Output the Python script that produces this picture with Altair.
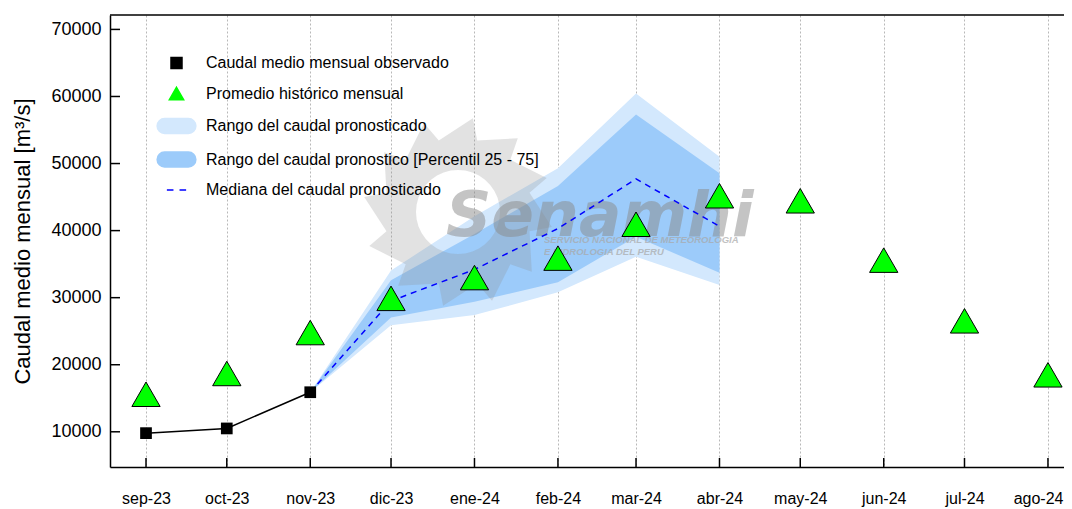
import math
import altair as alt
import pandas as pd

# ---------------- data ----------------
meses = ["2023-09-01", "2023-10-01", "2023-11-01", "2023-12-01", "2024-01-01", "2024-02-01",
         "2024-03-01", "2024-04-01", "2024-05-01", "2024-06-01", "2024-07-01", "2024-08-01"]
historico = [15000, 18100, 24200, 29300, 32400, 35300, 40350, 44600, 43850, 35000, 25950, 17900]

obs_meses = ["2023-09-01", "2023-10-01", "2023-11-01"]
observado = [9800, 10500, 15900]

pron_meses = ["2023-11-01", "2023-12-01", "2024-01-01", "2024-02-01", "2024-03-01", "2024-04-01"]
rango_min = [15900, 25900, 27400, 30800, 36100, 31900]
perc_25 = [15900, 27050, 29400, 32300, 39100, 33700]
mediana = [15900, 29500, 34200, 40300, 47700, 40650]
perc_75 = [15900, 32600, 39500, 46650, 57300, 48550]
rango_max = [15900, 34050, 42150, 49300, 60450, 51000]

y_ticks = [10000, 20000, 30000, 40000, 50000, 60000, 70000]

leyenda = ["Caudal medio mensual observado", "Promedio histórico mensual",
           "Rango del caudal pronosticado", "Rango del caudal pronostico [Percentil 25 - 75]",
           "Mediana del caudal pronosticado"]

def ts(s):
    return s + "T00:00:00"

df_hist = pd.DataFrame({"fecha": [ts(m) for m in meses], "v": historico})
df_obs = pd.DataFrame({"fecha": [ts(m) for m in obs_meses], "v": observado})
df_pron = pd.DataFrame({"fecha": [ts(m) for m in pron_meses], "mn": rango_min, "p25": perc_25,
                        "med": mediana, "p75": perc_75, "mx": rango_max})
df_months = pd.DataFrame({"fecha": [ts(m) for m in meses]})
df_yt = pd.DataFrame({"v": y_ticks})
df_leg = pd.DataFrame({"serie": leyenda})

# ---------------- styles ----------------
FONT = "Liberation Sans"
W, H = 954, 452
LIGHT = "#d3e8fd"
DARK = "#9ccbfa"

month_vals = [alt.DateTime(year=int(m[:4]), month=int(m[5:7]), date=1) for m in meses]
xscale = alt.Scale(domain=[alt.DateTime(year=2023, month=8, date=18, hours=15),
                           alt.DateTime(year=2024, month=8, date=6, hours=23)])
xaxis = alt.Axis(values=month_vals,
                 labelExpr="['ene','feb','mar','abr','may','jun','jul','ago','sep','oct','nov','dic'][month(datum.value)] + '-' + timeFormat(datum.value, '%y')",
                 ticks=False, grid=True, gridDash=[2, 2], gridColor="#b8b8b8", gridWidth=1,
                 domainColor="#000000", domainWidth=1.5, labelFont=FONT, labelFontSize=16,
                 labelColor="#000000", labelPadding=23, labelFlush=20, labelFlushOffset=15,
                 labelOverlap=False, title=None)
yscale = alt.Scale(domain=[4750, 72150], nice=False, zero=False)
yaxis = alt.Axis(values=y_ticks, format="d", ticks=False, grid=False, domainColor="#000000",
                 domainWidth=1.5, labelFont=FONT, labelFontSize=18, labelColor="#000000",
                 labelPadding=9, title="Caudal medio mensual  [m³/s]", titleFont=FONT,
                 titleFontSize=22, titleFontWeight="normal", titleColor="#000000",
                 titlePadding=16)

def X(field="fecha"):
    return alt.X(field + ":T", scale=xscale, axis=xaxis)

def Y(field):
    return alt.Y(field + ":Q", scale=yscale, axis=yaxis)

# ---------------- layers ----------------
band_light = alt.Chart(df_pron).mark_area(color=LIGHT, opacity=1).encode(
    x=X(), y=Y("mn"), y2="mx")
band_dark = alt.Chart(df_pron).mark_area(color=DARK, opacity=1).encode(
    x=X(), y=Y("p25"), y2="p75")

# watermark (decorative logo)
def sun_path(n=12, r_out=95, r_val=74, r_hole=42, twist=9):
    pts = []
    for k in range(2 * n):
        ang = math.radians(k * 180.0 / n + (twist if k % 2 == 0 else 0))
        r = r_out if k % 2 == 0 else r_val
        pts.append((r * math.cos(ang), r * math.sin(ang)))
    p = "M" + "L".join(f"{x:.1f},{y:.1f}" for x, y in pts) + "Z"
    hole = []
    for k in range(36):
        ang = -math.radians(k * 10)
        hole.append((r_hole * math.cos(ang), r_hole * math.sin(ang)))
    p += "M" + "L".join(f"{x:.1f},{y:.1f}" for x, y in hole) + "Z"
    return p

wm_data = alt.Data(values=[{"t": 1}])
sun = alt.Chart(wm_data).mark_point(shape=sun_path(), size=4, filled=True, fill="#8c8c8c",
                                    opacity=0.25, strokeWidth=0).encode(
    x=alt.value(348), y=alt.value(197))
wm_text = alt.Chart(wm_data).mark_text(text="Senamhi", font="DejaVu Sans", fontSize=63,
                                       fontWeight="bold", fontStyle="italic", align="left",
                                       baseline="alphabetic", color="#8a8a8a", opacity=0.5).encode(
    x=alt.value(336), y=alt.value(221))
wm_sub1 = alt.Chart(wm_data).mark_text(text="SERVICIO NACIONAL DE METEOROLOGIA", font=FONT,
                                       fontSize=9.5, fontWeight="bold", fontStyle="italic",
                                       align="left", baseline="alphabetic", color="#a8a8a8",
                                       opacity=0.7).encode(x=alt.value(434), y=alt.value(228))
wm_sub2 = alt.Chart(wm_data).mark_text(text="E HIDROLOGIA DEL PERU", font=FONT,
                                       fontSize=9.5, fontWeight="bold", fontStyle="italic",
                                       align="left", baseline="alphabetic", color="#a8a8a8",
                                       opacity=0.7).encode(x=alt.value(434), y=alt.value(240))

med_line = alt.Chart(df_pron).mark_line(color="#0000ff", strokeWidth=1.5, strokeDash=[6, 5]).encode(
    x=X(), y=Y("med"))
obs_line = alt.Chart(df_obs).mark_line(color="#000000", strokeWidth=1.5).encode(
    x=X(), y=Y("v"))
obs_pts = alt.Chart(df_obs).mark_square(color="#000000", size=137, opacity=1).encode(
    x=X(), y=Y("v"))
hist_pts = alt.Chart(df_hist).mark_point(shape="triangle-up", filled=True, fill="#00ff00",
                                         stroke="#000000", strokeWidth=1, size=800, opacity=1,
                                         yOffset=-4).encode(x=X(), y=Y("v"))

# inward ticks and top frame
y_tick_marks = alt.Chart(df_yt).mark_rule(color="#000000", strokeWidth=1.5).encode(
    y=Y("v"), x=alt.value(0), x2=alt.value(10))
x_tick_marks = alt.Chart(df_months).mark_rule(color="#000000", strokeWidth=1.5).encode(
    x=X(), y=alt.value(H), y2=alt.value(H - 9))
top_frame = alt.Chart(alt.Data(values=[{"t": 1}])).mark_rule(color="#000000", strokeWidth=1.5).encode(
    x=alt.value(0), x2=alt.value(W), y=alt.value(0))

# legend
tri = "M0,-1.13L1.3,1.13L-1.3,1.13Z"
pill = "M-2.16,-1.36L2.16,-1.36A1.36,1.36,0,0,1,2.16,1.36L-2.16,1.36A1.36,1.36,0,0,1,-2.16,-1.36Z"
dash = "M-1.75,0L-0.55,0M0.55,0L1.75,0"
leg = alt.Legend(orient="none", legendX=58.5, legendY=40, title=None, labelFont=FONT,
                 labelFontSize=16, labelColor="#000000", symbolSize=121, symbolStrokeWidth=1.5,
                 labelOffset=21.5, rowPadding=11.5, symbolOpacity=1, padding=0,
                 labelLimit=500)
legend_layer = alt.Chart(df_leg).mark_point(opacity=0, filled=True).encode(
    fill=alt.Fill("serie:N", scale=alt.Scale(domain=leyenda,
                  range=["#000000", "#00ff00", LIGHT, DARK, "transparent"]), legend=leg),
    stroke=alt.Stroke("serie:N", scale=alt.Scale(domain=leyenda,
                      range=["#000000", "#00ff00", LIGHT, DARK, "#0000ff"]), legend=leg),
    shape=alt.Shape("serie:N", scale=alt.Scale(domain=leyenda,
                    range=["square", tri, pill, pill, dash]), legend=leg),
)

chart = alt.layer(
    band_light, band_dark, sun, wm_text, wm_sub1, wm_sub2, med_line, obs_line, obs_pts,
    hist_pts, y_tick_marks, x_tick_marks, top_frame, legend_layer
).properties(
    width=W, height=H,
    padding={"left": 102, "top": 7, "right": 0, "bottom": 40},
    autosize=alt.AutoSizeParams(type="none"),
    background="#ffffff",
).configure_view(stroke=None)

chart.save("out.html", embed_options={"renderer": "svg", "actions": False})
